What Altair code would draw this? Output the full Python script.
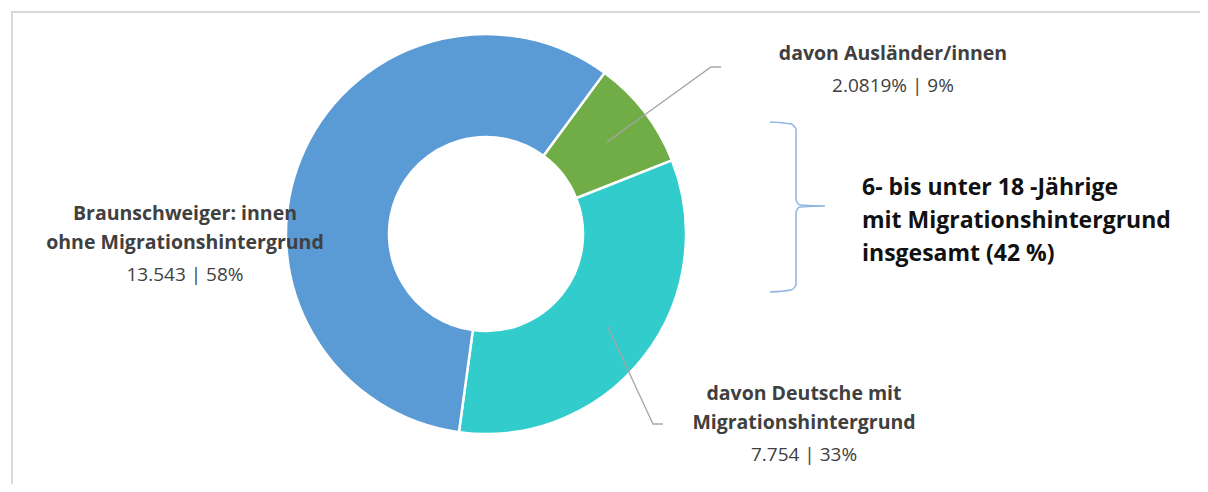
import altair as alt
import pandas as pd

# ---- data ----
categories = ["davon Ausländer/innen", "davon Deutsche mit Migrationshintergrund",
              "Braunschweiger: innen ohne Migrationshintergrund"]
values = [2.0819, 7.754, 13.543]
value_labels = ["2.0819%", "7.754", "13.543"]
shares = ["9%", "33%", "58%"]
colors = ["#70AD47", "#33CCCC", "#5B9BD5"]
label_lines = [["davon Ausländer/innen"],
               ["davon Deutsche mit", "Migrationshintergrund"],
               ["Braunschweiger: innen", "ohne Migrationshintergrund"]]
summary_lines = ["6- bis unter 18 -Jährige", "mit Migrationshintergrund", "insgesamt (42 %)"]

# ---- layout (pixel positions inside the chart) ----
W, H = 1192, 476
CX, CY = 475, 224
R_OUT, R_IN = 200, 97
START = 0.634
label_pos = [(882, 44), (793, 384), (174, 204)]
leaders = [[(596, 132), (700, 57), (710, 57)],
           [(597, 317), (642, 414), (652, 414)],
           None]
LINE_H = 29

df = pd.DataFrame({"cat": categories, "val": values, "ord": [0, 1, 2]})

px = alt.Scale(domain=[0, W], range=[0, W])
py = alt.Scale(domain=[0, H], range=[0, H])

donut = alt.Chart(df).mark_arc(innerRadius=R_IN, outerRadius=R_OUT, stroke="white",
                               strokeWidth=2.5).encode(
    theta=alt.Theta("val:Q", stack=True,
                    scale=alt.Scale(range=[START, START + 2 * 3.14159265])),
    order=alt.Order("ord:Q"),
    color=alt.Color("cat:N", scale=alt.Scale(domain=categories, range=colors), legend=None),
    x=alt.value(CX), y=alt.value(CY),
)

# text rows
rows = []
for i, (lines, (lx, ly)) in enumerate(zip(label_lines, label_pos)):
    for j, t in enumerate(lines):
        rows.append({"x": lx, "y": ly + j * LINE_H, "t": t, "w": "bold"})
    rows.append({"x": lx, "y": ly + len(lines) * LINE_H + 3,
                 "t": f"{value_labels[i]} | {shares[i]}", "w": "normal"})
tdf = pd.DataFrame(rows)

FONT = "Open Sans"
bold_txt = alt.Chart(tdf[tdf.w == "bold"]).mark_text(
    font=FONT, fontSize=19.5, fontWeight="bold", color="#404040", align="center", baseline="middle"
).encode(x=alt.X("x:Q", scale=px, axis=None), y=alt.Y("y:Q", scale=py, axis=None), text="t:N")
norm_txt = alt.Chart(tdf[tdf.w == "normal"]).mark_text(
    font=FONT, fontSize=19, color="#404040", align="center", baseline="middle"
).encode(x=alt.X("x:Q", scale=px, axis=None), y=alt.Y("y:Q", scale=py, axis=None), text="t:N")

sdf = pd.DataFrame({"x": [851] * 3, "y": [178 + k * 33 for k in range(3)], "t": summary_lines})
sum_txt = alt.Chart(sdf).mark_text(
    font=FONT, fontSize=23, fontWeight="bold", color="#111111", align="left", baseline="middle"
).encode(x=alt.X("x:Q", scale=px, axis=None), y=alt.Y("y:Q", scale=py, axis=None), text="t:N")

# leader lines
lrows = []
for i, pts in enumerate(leaders):
    if pts is None:
        continue
    for k, (a, b) in enumerate(pts):
        lrows.append({"g": i, "k": k, "x": a, "y": b})
ldf = pd.DataFrame(lrows)
leader = alt.Chart(ldf).mark_line(color="#A6A6A6", strokeWidth=1.3).encode(
    x=alt.X("x:Q", scale=px, axis=None), y=alt.Y("y:Q", scale=py, axis=None),
    detail="g:N", order="k:Q")

# brace
brace_pts = [(759, 112), (780, 114), (785, 119), (785, 190), (789, 195), (814, 196),
             (789, 197), (785, 202), (785, 275), (780, 280), (759, 282)]
bdf = pd.DataFrame({"x": [p[0] for p in brace_pts], "y": [p[1] for p in brace_pts],
                    "k": list(range(len(brace_pts)))})
brace = alt.Chart(bdf).mark_line(color="#8DB4E2", strokeWidth=1.5, interpolate="monotone").encode(
    x=alt.X("x:Q", scale=px, axis=None), y=alt.Y("y:Q", scale=py, axis=None), order="k:Q")

# frame
fdf = pd.DataFrame({"x": [1, 1, W], "y": [H, 2, 2], "k": [0, 1, 2]})
frame = alt.Chart(fdf).mark_line(color="#D9D9D9", strokeWidth=2).encode(
    x=alt.X("x:Q", scale=px, axis=None), y=alt.Y("y:Q", scale=py, axis=None), order="k:Q")

chart = alt.layer(frame, donut, leader, brace, bold_txt, norm_txt, sum_txt).properties(
    width=W, height=H, padding=0,
    autosize=alt.AutoSizeParams(type="fit", contains="padding"),
    background="white",
).configure_view(stroke=None)

chart.save("out.html", embed_options={"renderer": "svg", "actions": False})
